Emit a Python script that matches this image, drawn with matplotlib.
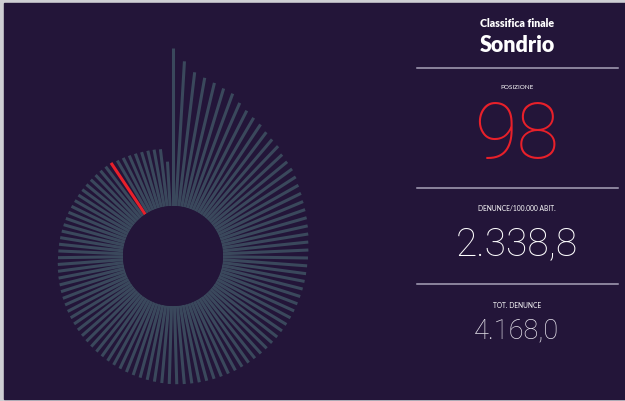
import numpy as np
import matplotlib
matplotlib.use("Agg")
import matplotlib.pyplot as plt
from matplotlib.patches import Rectangle
from matplotlib.lines import Line2D

# denunce per 100.000 abitanti, provinces sorted by rank (1 = Milano ... 107)
values = [7017, 6393, 5906, 5711, 5565, 5419, 5321, 5029, 4834, 4688,
          4590, 4444, 4347, 4298, 4152, 4103, 4079, 4006, 3908, 3835,
          3762, 3713, 3664, 3616, 3567, 3518, 3494, 3469, 3445, 3432,
          3421, 3410, 3396, 3385, 3372, 3360, 3348, 3335, 3323, 3310,
          3299, 3287, 3274, 3262, 3250, 3238, 3226, 3215, 3201, 3190,
          3177, 3165, 3153, 3140, 3128, 3104, 3080, 3055, 3031, 3007,
          2982, 2958, 2933, 2909, 2885, 2860, 2836, 2812, 2787, 2763,
          2738, 2714, 2690, 2665, 2641, 2617, 2592, 2568, 2543, 2519,
          2495, 2483, 2471, 2460, 2446, 2434, 2422, 2410, 2397, 2385,
          2373, 2368, 2361, 2355, 2349, 2345, 2342, 2338.8, 2275, 2251,
          2227, 2202, 2178, 2165, 2154, 2129, 1496]
highlight_rank = 98
province = "Sondrio"
rate_label = "2.338,8"
total_label = "4.168,0"

bg = "#231539"
bar_col = "#3a485c"
red = "#e8202a"

n = len(values)
theta = np.arange(n) * 2 * np.pi / n
inner = -673      # value at the inner hole edge
origin = -3110    # radial origin of the scale
rmax = 7200

fig = plt.figure(figsize=(6.25, 4.01), dpi=100, facecolor="#cfcfd4")
fig.patches.append(Rectangle((4 / 625, 2 / 401), 1, 396 / 401,
                             transform=fig.transFigure, color=bg, zorder=-5))

# polar axes placed so that its centre sits at (173, 256) px
rad_px = 0.02052 * (rmax - origin)
cx, cy = 173, 401 - 256
ax = fig.add_axes([(cx - rad_px) / 625, (cy - rad_px) / 401,
                   2 * rad_px / 625, 2 * rad_px / 401], projection="polar")
ax.set_theta_zero_location("N")
ax.set_theta_direction(-1)
ax.set_rorigin(origin)
ax.set_ylim(inner, rmax)

colors = [red if i == highlight_rank - 1 else bar_col for i in range(n)]
ax.vlines(theta, inner, values, colors=colors, linewidth=2.2,
          capstyle="butt")
ax.set_axis_off()

# right-hand info panel
xc = 0.827
fam = "Lato"
thin = ["Roboto", "DejaVu Sans"]
fig.text(xc, 1 - 26.7 / 401, "Classifica finale", ha="center", va="baseline",
         color="white", fontsize=7.7, fontweight="heavy", family=fam)
fig.text(xc, 1 - 52 / 401, province, ha="center", va="baseline",
         color="white", fontsize=15.5, fontweight="heavy", family=fam)
fig.text(xc, 1 - 89 / 401, "POSIZIONE", ha="center", va="baseline",
         color="white", fontsize=4.6, family=fam)
fig.text(xc, 1 - 158.3 / 401, str(highlight_rank), ha="center", va="baseline",
         color=red, fontsize=56, fontweight="light", family=thin)
fig.text(xc, 1 - 211 / 401, "DENUNCE/100.000 ABIT.", ha="center",
         va="baseline", color="white", fontsize=4.8, family=fam)
fig.text(xc, 1 - 255 / 401, rate_label, ha="center", va="baseline",
         color="white", fontsize=28, fontweight="light", family=thin)
fig.text(xc, 1 - 308.3 / 401, "TOT. DENUNCE", ha="center", va="baseline",
         color="white", fontsize=4.8, family=fam)
fig.text(xc, 1 - 338.3 / 401, total_label, ha="center", va="baseline",
         color="#e4e1ea", fontsize=19.5, fontweight="light", family=thin)

for y in (68.3, 188.3, 284):
    fig.add_artist(Line2D([417 / 625, 618 / 625], [1 - y / 401] * 2,
                          color="#a7a1b8", linewidth=1.1))

fig.savefig("out.png", dpi=100, facecolor=fig.get_facecolor())
